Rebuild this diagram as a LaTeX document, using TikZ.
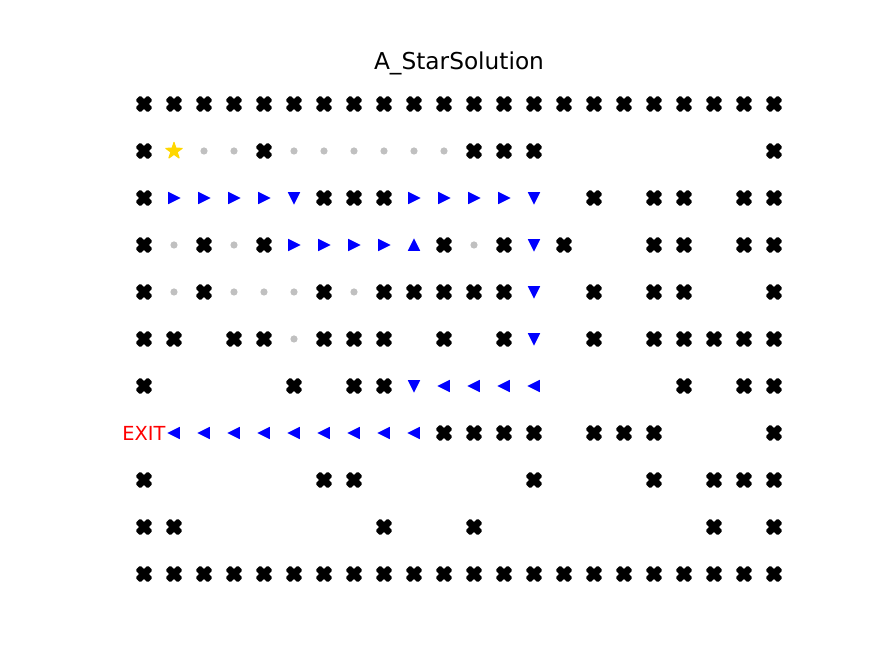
\documentclass[tikz,border=0pt]{standalone}
\usepackage{fontspec}
\setmainfont{DejaVu Sans}
\usetikzlibrary{positioning}
\definecolor{visitgray}{RGB}{192,192,192}
\definecolor{stargold}{RGB}{255,215,0}
\definecolor{pathblue}{RGB}{0,0,255}
\definecolor{exitred}{RGB}{255,0,0}

\tikzset{
  pics/wallx/.style={code={
    \filldraw[black, line width=0.8, rotate=45, rounded corners=0.5]
      (-2.7,-7.9) -- (2.7,-7.9) -- (2.7,-2.7) -- (7.9,-2.7) -- (7.9,2.7) -- (2.7,2.7)
      -- (2.7,7.9) -- (-2.7,7.9) -- (-2.7,2.7) -- (-7.9,2.7) -- (-7.9,-2.7) -- (-2.7,-2.7) -- cycle;}},
  pics/visited/.style={code={\fill[visitgray] (0,0) circle (3.6);}},
  pics/arrright/.style={code={\filldraw[pathblue, line width=0.6] (5.4,0) -- (-5.2,-5.3) -- (-5.2,5.3) -- cycle;}},
  pics/arrleft/.style={code={\filldraw[pathblue, line width=0.6] (-5.4,0) -- (5.2,-5.3) -- (5.2,5.3) -- cycle;}},
  pics/arrdown/.style={code={\filldraw[pathblue, line width=0.6] (0,5.4) -- (-5.3,-5.2) -- (5.3,-5.2) -- cycle;}},
  pics/arrup/.style={code={\filldraw[pathblue, line width=0.6] (0,-5.4) -- (-5.3,5.2) -- (5.3,5.2) -- cycle;}},
  pics/startstar/.style={code={\filldraw[stargold, line width=0.6, line join=round]
      (-90:8.6) -- (-54:3.3) -- (-18:8.6) -- (18:3.3) -- (54:8.6) -- (90:3.3)
      -- (126:8.6) -- (162:3.3) -- (198:8.6) -- (234:3.3) -- cycle;}},
}

\begin{document}
\begin{tikzpicture}[x=0.5143bp, y=-0.5143bp]
\useasboundingbox (0,0) rectangle (896,672);

\node[font=\fontsize{12}{14}\selectfont, anchor=base] (title) at (459,70) {A\_StarSolution};

% outer walls
\foreach \c in {0,...,21} {
  \pic at ({144+30*\c},104) {wallx};
  \pic at ({144+30*\c},574) {wallx};
}
% inner walls
\foreach \r/\cols in {1/{0,4,11,12,13,21}, 2/{0,6,7,8,15,17,18,20,21}, 3/{0,2,4,10,12,14,17,18,20,21},
    4/{0,2,6,8,9,10,11,12,15,17,18,21}, 5/{0,1,3,4,6,7,8,10,12,15,17,18,19,20,21}, 6/{0,5,7,8,18,20,21},
    7/{10,11,12,13,15,16,17,21}, 8/{0,6,7,13,17,19,20,21}, 9/{0,1,8,11,19,21}} {
  \foreach \c in \cols {
    \pic at ({144+30*\c},{104+47*\r}) {wallx};
  }
}

% visited cells
\foreach \c/\r in {2/1,3/1,5/1,6/1,7/1,8/1,9/1,10/1,1/3,3/3,11/3,1/4,3/4,4/4,5/4,7/4,5/5}
  \pic at ({144+30*\c},{104+47*\r}) {visited};

% solution path
\foreach \c/\r in {1/2,2/2,3/2,4/2,9/2,10/2,11/2,12/2,5/3,6/3,7/3,8/3}
  \pic at ({144+30*\c},{104+47*\r}) {arrright};
\foreach \c/\r in {5/2,13/2,13/3,13/4,13/5,9/6}
  \pic at ({144+30*\c},{104+47*\r}) {arrdown};
\pic at ({144+30*9},{104+47*3}) {arrup};
\foreach \c/\r in {10/6,11/6,12/6,13/6,1/7,2/7,3/7,4/7,5/7,6/7,7/7,8/7,9/7}
  \pic at ({144+30*\c},{104+47*\r}) {arrleft};

\pic at (174,151) {startstar};
\node[font=\fontsize{10}{12}\selectfont, text=exitred, inner sep=0pt] (exit) at (144,433) {EXIT};
\end{tikzpicture}
\end{document}
